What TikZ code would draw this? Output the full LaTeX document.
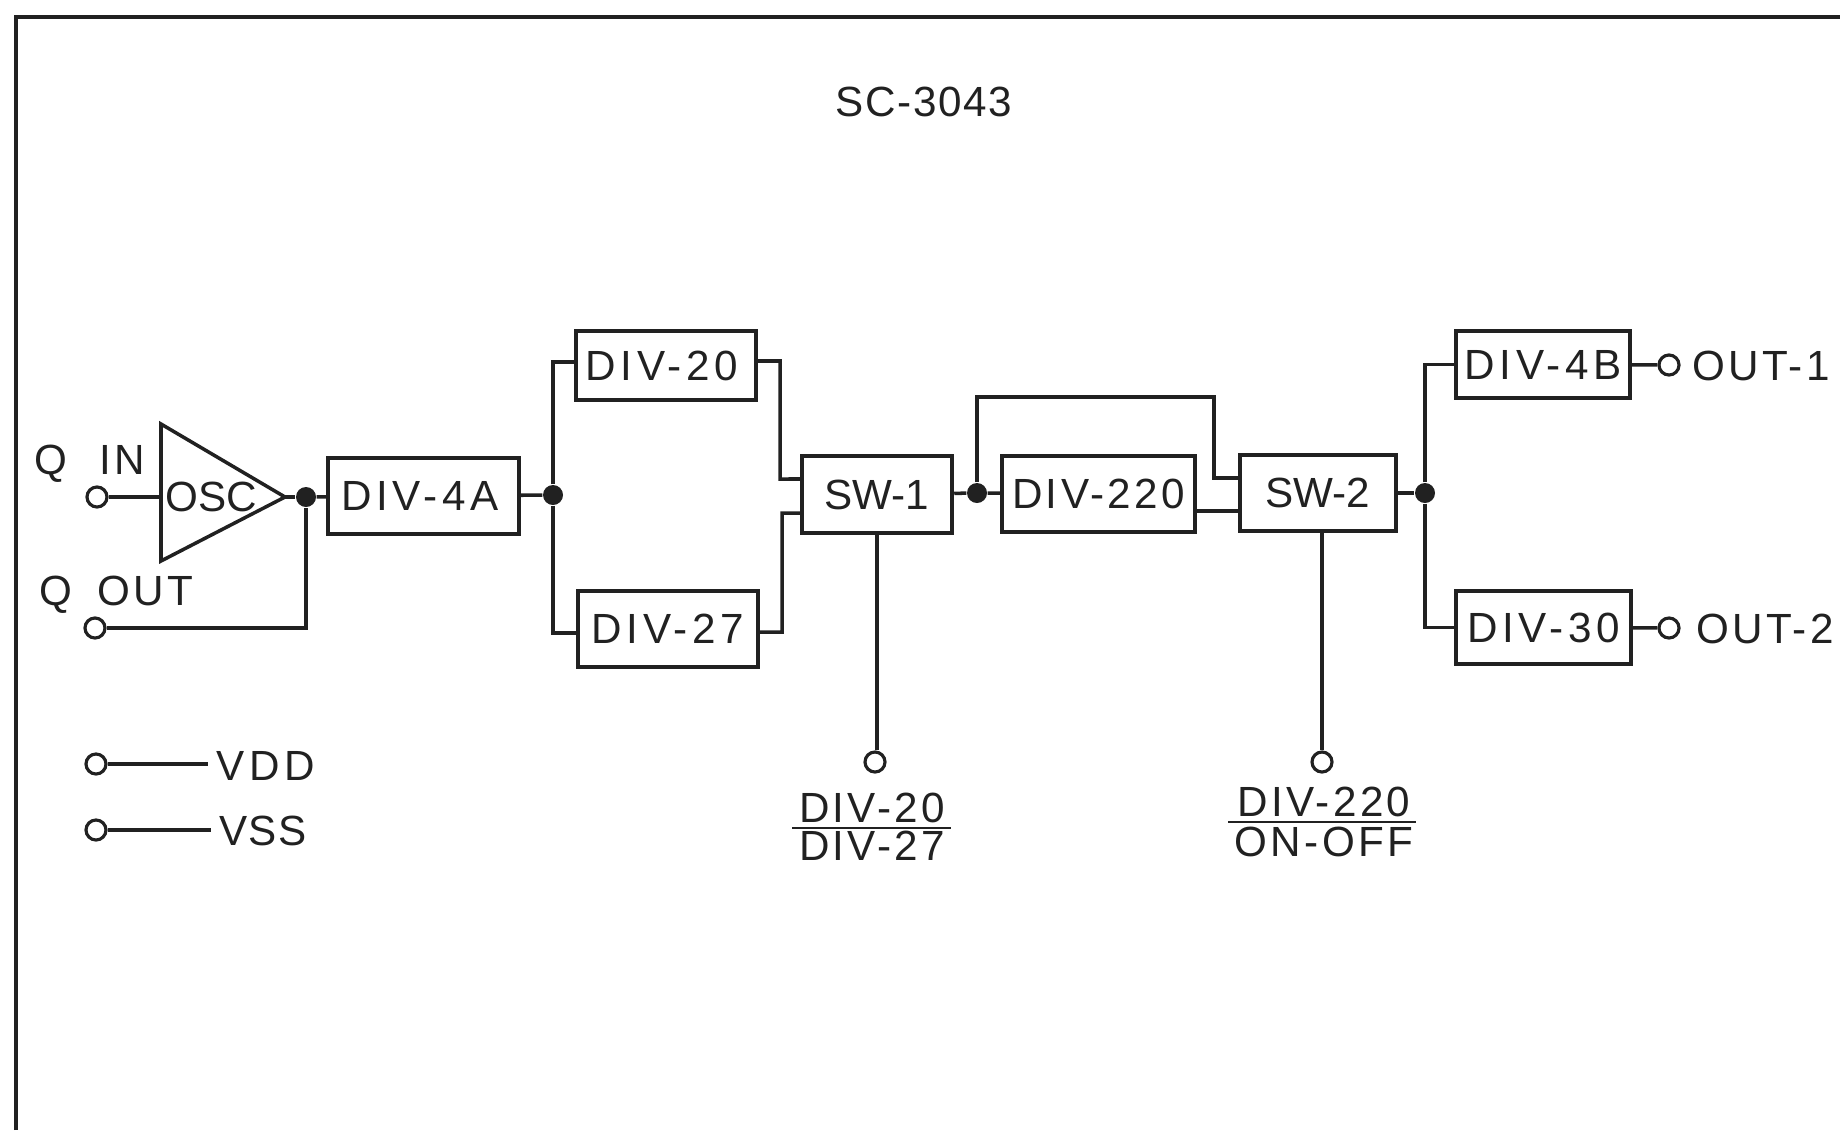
\documentclass[tikz,border=0pt]{standalone}
\usepackage{fontspec}
\setmainfont[LetterSpace=8]{Liberation Sans}
\newfontfamily\widefont[LetterSpace=11]{Liberation Sans}
\newfontfamily\midfont[LetterSpace=4]{Liberation Sans}
\newfontfamily\tightfont{Liberation Sans}
\definecolor{schemink}{gray}{0.13}
\tikzset{
	wire/.style={line width=1pt},
	divbox/.style={draw,rectangle,line width=1.1pt,inner sep=0pt},
	term/.style={circle,draw,line width=0.9pt,fill=white,minimum size=0.2cm,inner sep=0pt},
	junct/.style={circle,fill=schemink,minimum size=0.2cm,inner sep=0pt},
}
\begin{document}
\begin{tikzpicture}[x=0.01cm,y=-0.01cm,color=schemink,node font=\fontsize{12}{12}\selectfont]
			\useasboundingbox (0,0) rectangle (1840,1130);
			\coordinate (framebl) at (16,1130);
			\coordinate (frametl) at (16,17);
			\coordinate (frametr) at (1840,17);
			\draw [line width=1.2pt] (framebl)-- (frametl)-- (frametr);
			\node (title) at (924,102) {\midfont SC-3043};
			\coordinate (osctop) at (161,424);
			\coordinate (oscbot) at (161,561);
			\coordinate (oscapex) at (285,497);
			\coordinate (oscbase) at (161,497);
			\draw [wire,line join=miter] (osctop)-- (oscapex)-- (oscbot)-- cycle;
			\node (osctext) at (211,497) {\tightfont OSC};
			\node [term] (qin) at (97,497) {};
			\node [term] (qout) at (95,628) {};
			\node (qintext) at (90,464) {Q\hspace{0.75em}IN};
			\node (qouttext) at (116,595) {Q\hspace{0.6em}OUT};
			\node [term] (vdd) at (96,764) {};
			\node [term] (vss) at (96,830) {};
			\node (vddtext) at (266,766) {\widefont VDD};
			\node (vsstext) at (263,831) {\midfont VSS};
			\node [divbox,minimum width=1.91cm,minimum height=0.76cm] (div4a) at (423.5,496) {\widefont DIV-4A\kern0.07cm};
			\node [divbox,minimum width=1.80cm,minimum height=0.69cm] (div20) at (666,365.5) {\widefont DIV-20\kern0.08cm};
			\node [divbox,minimum width=1.80cm,minimum height=0.76cm] (div27) at (668,629) {\widefont DIV-27};
			\node [divbox,minimum width=1.505cm,minimum height=0.77cm] (sw1) at (877,494.5) {\tightfont SW-1};
			\node [divbox,minimum width=1.93cm,minimum height=0.76cm] (div220) at (1098.5,494) {DIV-220};
			\node [divbox,minimum width=1.56cm,minimum height=0.76cm] (sw2) at (1318,493) {\tightfont SW-2};
			\node [divbox,minimum width=1.74cm,minimum height=0.67cm] (div4b) at (1543,364.5) {\widefont DIV-4B};
			\node [divbox,minimum width=1.75cm,minimum height=0.73cm] (div30) at (1543.5,627.5) {\widefont DIV-30};
			\node [junct] (nodea) at (306,497) {};
			\node [junct] (nodeb) at (553,495) {};
			\node [junct] (nodec) at (977,493) {};
			\node [junct] (noded) at (1425,493) {};
			\node [term] (ctla) at (875,762) {};
			\node [term] (ctlb) at (1322,762) {};
			\node [term] (outa) at (1669,365) {};
			\node [term] (outb) at (1669,628) {};
			\node (outatext) at (1761,366) {OUT-1};
			\node (outbtext) at (1765,629) {OUT-2};
			\node (ctlatop) at (872,808) {DIV-20};
			\node (ctlabot) at (872,846) {DIV-27};
			\node (ctlbtop) at (1324,802) {DIV-220};
			\node (ctlbbot) at (1324,842) {ON-OFF};
			\coordinate (barastart) at (792,828);
			\coordinate (baraend) at (951,828);
			\coordinate (barbstart) at (1228,822);
			\coordinate (barbend) at (1416,822);
			\coordinate (vddend) at (208,764);
			\coordinate (vssend) at (211,830);
			\coordinate (looptop) at (1214,397);
			\draw [line width=0.7pt] (barastart)-- (baraend);
			\draw [line width=0.7pt] (barbstart)-- (barbend);
			\draw [wire] (qin)-- (oscbase);
			\draw [wire] (oscapex)-- (nodea);
			\draw [wire] (nodea)-- (div4a);
			\draw [wire] (qout)-| (nodea);
			\draw [wire] (vdd)-- (vddend);
			\draw [wire] (vss)-- (vssend);
			\draw [wire] (div4a)-- (nodeb);
			\draw [wire] (nodeb) |- ([yshift=0.035cm]div20.west);
			\draw [wire] (nodeb) |- ([yshift=-0.04cm]div27.west);
			\draw [wire] ([yshift=0.045cm]div20.east) -| (780,479)-- ([yshift=0.155cm]sw1.west);
			\draw [wire] ([yshift=-0.03cm]div27.east) -| (782,513)-- ([yshift=-0.185cm]sw1.west);
			\draw [wire] (sw1)-- (nodec);
			\draw [wire] (nodec)-- (div220);
			\draw [wire] (nodec) |- (looptop) |- ([yshift=0.15cm]sw2.west);
			\draw [wire] ([yshift=-0.17cm]div220.east)-- ([yshift=-0.18cm]sw2.west);
			\draw [wire] (sw2)-- (noded);
			\draw [wire] (noded) |- (div4b.west);
			\draw [wire] (noded) |- (div30.west);
			\draw [wire] (div4b)-- (outa);
			\draw [wire] (div30)-- (outb);
			\draw [wire] (sw1.south)-- (sw1.south |- ctla.north);
			\draw [wire] (ctlb.north |- sw2.south)-- (ctlb.north);
\end{tikzpicture}
\end{document}
